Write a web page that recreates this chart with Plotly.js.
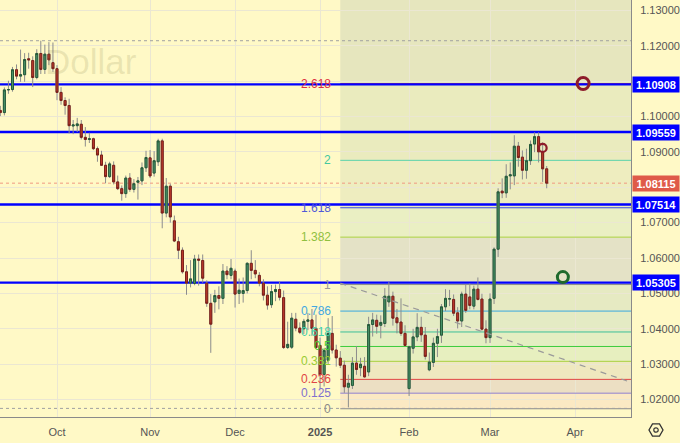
<!DOCTYPE html>
<html>
<head>
<meta charset="utf-8">
<script src="https://cdn.plot.ly/plotly-3.0.1.min.js"></script>
<style>
  html, body { margin: 0; padding: 0; background: #fff9c6; }
  #chart { width: 680px; height: 443px; }
</style>
</head>
<body>
<div id="chart"></div>
<script>
// ---------------- DATA ----------------
// trading days (weekends and 25 Dec / 1 Jan skipped)
const firstDay = '2024-09-11';
const lastDay = '2025-03-21';
const holidays = ['2024-12-25', '2025-01-01'];

// daily OHLC, one value per trading day, Sep 11 2024 .. Mar 21 2025
const opens = [
  // Sep
  1.1017,1.1011,1.1075,1.1076,1.1132,1.1114,1.1118,1.1163,1.1158,1.1110,1.1178,1.1133,1.1176,1.1152,
  // Oct
  1.1135,1.1068,1.1045,1.1031,1.0973,1.0974,1.0978,1.0941,1.0935,1.0937,1.0909,1.0891,1.0862,1.0830,
  1.0862,1.0815,1.0796,1.0782,1.0826,1.0794,1.0814,1.0818,1.0855,
  // Nov
  1.0883,1.0840,1.0872,1.0931,1.0727,1.0803,1.0705,1.0646,1.0622,1.0561,1.0529,1.0528,1.0597,1.0593,
  1.0529,1.0472,1.0476,1.0494,1.0486,1.0563,1.0551,
  // Dec
  1.0563,1.0500,1.0500,1.0508,1.0585,1.0565,1.0551,1.0529,1.0495,1.0468,1.0505,1.0511,1.0488,1.0347,
  1.0348,1.0427,1.0402,1.0400,1.0421,1.0425,1.0401,
  // Jan
  1.0353,1.0271,1.0311,1.0387,1.0340,1.0317,1.0297,1.0235,1.0240,1.0303,1.0290,1.0294,1.0278,1.0412,
  1.0424,1.0410,1.0415,1.0476,1.0492,1.0431,1.0419,1.0387,
  // Feb
  1.0231,1.0345,1.0377,1.0404,1.0382,1.0284,1.0305,1.0359,1.0382,1.0462,1.0484,1.0483,1.0445,1.0422,
  1.0498,1.0490,1.0464,1.0512,1.0484,1.0399,
  // Mar
  1.0375,1.0486,1.0625,1.0789,1.0784,1.0832,1.0832,1.0916,1.0885,1.0848,1.0875,1.0922,1.0943,1.0900,
  1.0852
];
const highs = [
  1.1030,1.1082,1.1101,1.1140,1.1147,1.1189,1.1179,1.1180,1.1170,1.1190,1.1214,1.1203,1.1210,1.1209,
  1.1145,1.1083,1.1054,1.1050,1.0990,1.0996,1.0990,1.0970,1.0954,1.0940,1.0915,1.0903,1.0872,1.0872,
  1.0873,1.0833,1.0805,1.0833,1.0840,1.0823,1.0829,1.0870,1.0903,
  1.0905,1.0902,1.0937,1.0937,1.0826,1.0810,1.0720,1.0660,1.0630,1.0580,1.0594,1.0609,1.0610,1.0610,
  1.0537,1.0498,1.0510,1.0520,1.0583,1.0577,1.0597,
  1.0570,1.0542,1.0545,1.0588,1.0622,1.0594,1.0560,1.0540,1.0520,1.0524,1.0525,1.0533,1.0508,1.0420,
  1.0445,1.0445,1.0418,1.0428,1.0445,1.0456,1.0440,
  1.0375,1.0345,1.0430,1.0436,1.0355,1.0337,1.0310,1.0270,1.0320,1.0351,1.0318,1.0320,1.0434,1.0445,
  1.0440,1.0438,1.0515,1.0532,1.0505,1.0456,1.0486,1.0410,
  1.0352,1.0400,1.0444,1.0434,1.0405,1.0333,1.0375,1.0400,1.0470,1.0512,1.0510,1.0497,1.0461,1.0505,
  1.0526,1.0528,1.0522,1.0545,1.0499,1.0424,
  1.0500,1.0630,1.0797,1.0825,1.0865,1.0870,1.0947,1.0928,1.0904,1.0909,1.0932,1.0955,1.0955,1.0927,
  1.0860
];
const lows = [
  1.1001,1.1003,1.1064,1.1070,1.1105,1.1098,1.1098,1.1135,1.1083,1.1105,1.1120,1.1120,1.1145,1.1126,
  1.1046,1.1033,1.1005,1.0952,1.0950,1.0956,1.0935,1.0915,1.0925,1.0905,1.0872,1.0860,1.0811,1.0826,
  1.0808,1.0792,1.0762,1.0770,1.0787,1.0785,1.0765,1.0806,1.0843,
  1.0826,1.0830,1.0860,1.0684,1.0715,1.0700,1.0645,1.0597,1.0556,1.0496,1.0517,1.0523,1.0522,1.0530,
  1.0462,1.0332,1.0445,1.0455,1.0470,1.0540,1.0540,
  1.0460,1.0470,1.0474,1.0500,1.0540,1.0543,1.0520,1.0480,1.0454,1.0459,1.0478,1.0480,1.0343,1.0343,
  1.0343,1.0393,1.0385,1.0385,1.0396,1.0380,1.0343,
  1.0230,1.0237,1.0300,1.0330,1.0293,1.0289,1.0219,1.0178,1.0230,1.0270,1.0266,1.0262,1.0266,1.0378,
  1.0386,1.0373,1.0405,1.0462,1.0409,1.0387,1.0380,1.0350,
  1.0210,1.0330,1.0365,1.0363,1.0313,1.0280,1.0292,1.0320,1.0360,1.0450,1.0464,1.0436,1.0401,1.0405,
  1.0445,1.0455,1.0455,1.0480,1.0395,1.0359,
  1.0360,1.0470,1.0603,1.0769,1.0770,1.0794,1.0806,1.0858,1.0822,1.0824,1.0863,1.0899,1.0870,1.0815,
  1.0797
];
const closes = [
  1.1011,1.1075,1.1076,1.1132,1.1114,1.1118,1.1161,1.1160,1.1110,1.1178,1.1133,1.1176,1.1160,1.1135,
  1.1068,1.1045,1.1031,1.0974,1.0976,1.0979,1.0941,1.0935,1.0937,1.0909,1.0891,1.0862,1.0830,1.0866,
  1.0815,1.0796,1.0782,1.0826,1.0794,1.0810,1.0818,1.0855,1.0884,
  1.0832,1.0875,1.0931,1.0727,1.0803,1.0716,1.0648,1.0622,1.0561,1.0529,1.0541,1.0597,1.0594,1.0543,
  1.0472,1.0413,1.0494,1.0486,1.0563,1.0553,1.0571,
  1.0498,1.0509,1.0508,1.0585,1.0565,1.0555,1.0529,1.0495,1.0467,1.0505,1.0511,1.0489,1.0347,1.0356,
  1.0430,1.0402,1.0390,1.0421,1.0425,1.0401,1.0347,
  1.0270,1.0339,1.0387,1.0340,1.0318,1.0297,1.0236,1.0246,1.0303,1.0285,1.0300,1.0264,1.0412,1.0425,
  1.0407,1.0418,1.0492,1.0492,1.0430,1.0417,1.0387,1.0353,
  1.0349,1.0377,1.0404,1.0383,1.0322,1.0306,1.0359,1.0378,1.0462,1.0486,1.0485,1.0444,1.0422,1.0498,
  1.0452,1.0466,1.0512,1.0483,1.0399,1.0375,
  1.0484,1.0625,1.0787,1.0784,1.0831,1.0835,1.0916,1.0884,1.0848,1.0875,1.0921,1.0943,1.0900,1.0852,
  1.08115
];

// x axis
const tickDates = ['2024-10-01','2024-11-01','2024-12-02','2025-01-02','2025-02-03','2025-03-03','2025-04-01'];
const tickTexts = ['Oct','Nov','Dec','<b>2025</b>','Feb','Mar','Apr'];
const xStart = '2024-09-10 22:00';
const xEnd = '2025-04-18 20:00';

// y axis (1.08000 and 1.11000 sit under the price boxes)
const yTicks = [1.02,1.03,1.04,1.05,1.06,1.07,1.08,1.09,1.10,1.11,1.12,1.13];
const yTickTexts = ['1.02000','1.03000','1.04000','1.05000','1.06000','1.07000','','1.09000','1.10000','','1.12000','1.13000'];
const yMin = 1.01507, yMax = 1.13291;

// horizontal levels (blue), marked price boxes
const blueLevels = [1.10908, 1.09559, 1.07514, 1.05305];
const lastPrice = 1.08115;
const rangeHigh = 1.1214;
const rangeLow = 1.0175;

// Fibonacci grid
const fibStart = '2025-01-09';
const fibRatios = ['0','0.125','0.236','0.382','0.5','0.618','0.786','1','1.382','1.618','2','2.618'];
const fibPrices = [1.0174,1.0218,1.0257,1.0308,1.0350,1.0391,1.0450,1.0525,1.0659,1.0742,1.0876,1.1093];

// dashed trend line
const trendX = ['2025-01-09', '2025-04-18 12:00'];
const trendY = [1.0529, 1.0250];

// circle marks
const ringRedBigX = ['2025-04-03'], ringRedBigY = [1.1093];
const ringRedX = ['2025-03-20'], ringRedY = [1.0911];
const ringGreenX = ['2025-03-27'], ringGreenY = [1.0546];

// watermark
const watermark = 'Dollar';

// ---------------- STYLE ----------------
const BG = '#fff9c6';
const GRID = '#ebe7d2';
const FONT = 'Liberation Sans, Arial, sans-serif';
const fibLineColors = ['#8a8a8a','#9080d0','#e04545','#a8d040','#3ccc3c','#3cbf98','#3aa8e0',
                       '#8a8a8a','#a8d040','#3a50e0','#5ad2aa','#e03040'];
const fibLabelColors = ['#8a8a8a','#8070d0','#e04545','#99cc33','#44cc33','#3fd0a8','#44a8e0',
                        '#9a9a9a','#90c040','#5058d8','#44c8a0','#e03040'];
const bandColors = ['#fbe9c3','#ecdfc3','#efe8bf','#e7efbf','#e4eec2','#e4ebc4','#e6eac2',
                    '#e4e2c6','#eaefc3','#eeedbf','#eaebbe','#e6e6be'];

// ---------------- BUILD ----------------
function tradingDays(a, b, skip) {
  const out = [];
  let d = new Date(a + 'T00:00:00Z');
  const end = new Date(b + 'T00:00:00Z');
  while (d <= end) {
    const s = d.toISOString().slice(0, 10);
    const w = d.getUTCDay();
    if (w !== 0 && w !== 6 && skip.indexOf(s) < 0) out.push(s);
    d = new Date(d.getTime() + 86400000);
  }
  return out;
}
const dates = tradingDays(firstDay, lastDay, holidays);

const bodyHigh = opens.map((o, i) => Math.max(o, closes[i]));
const bodyLow = opens.map((o, i) => Math.min(o, closes[i]));

const traces = [
  { // wicks
    type: 'candlestick', x: dates, open: opens, high: highs, low: lows, close: closes,
    increasing: { line: { color: '#8c8c8c', width: 1 }, fillcolor: '#8c8c8c' },
    decreasing: { line: { color: '#8c8c8c', width: 1 }, fillcolor: '#8c8c8c' },
    whiskerwidth: 0, hoverinfo: 'skip', showlegend: false
  },
  { // bodies
    type: 'candlestick', x: dates, open: opens, high: bodyHigh, low: bodyLow, close: closes,
    increasing: { line: { color: '#245a38', width: 1 }, fillcolor: '#4a946a' },
    decreasing: { line: { color: '#7a2018', width: 1 }, fillcolor: '#bf3a2c' },
    whiskerwidth: 0, hoverinfo: 'skip', showlegend: false
  },
  {
    type: 'scatter', mode: 'lines', x: trendX, y: trendY,
    line: { color: '#9a9a9a', width: 1.2, dash: '6px,5px' }, hoverinfo: 'skip', showlegend: false
  },
  {
    type: 'scatter', mode: 'markers', x: ringRedX, y: ringRedY,
    marker: { symbol: 'circle-open', size: 8, color: '#8e1c2a', line: { width: 2.2, color: '#8e1c2a' } },
    hoverinfo: 'skip', showlegend: false
  },
  {
    type: 'scatter', mode: 'markers', x: ringRedBigX, y: ringRedBigY,
    marker: { symbol: 'circle-open', size: 12, color: '#8e1c2a', line: { width: 3, color: '#8e1c2a' } },
    hoverinfo: 'skip', showlegend: false
  },
  {
    type: 'scatter', mode: 'markers', x: ringGreenX, y: ringGreenY,
    marker: { symbol: 'circle-open', size: 11, color: '#1f6a2c', line: { width: 3, color: '#1f6a2c' } },
    hoverinfo: 'skip', showlegend: false
  }
];

const shapes = [];
// fib bands
for (let k = 0; k < fibPrices.length; k++) {
  const top = k + 1 < fibPrices.length ? fibPrices[k + 1] : yMax;
  shapes.push({ type: 'rect', xref: 'x', yref: 'y', x0: fibStart, x1: xEnd, y0: fibPrices[k], y1: top,
    fillcolor: bandColors[k], line: { width: 0 }, layer: 'below' });
}
// fib lines
fibPrices.forEach((p, k) => {
  shapes.push({ type: 'line', xref: 'x', yref: 'y', x0: fibStart, x1: xEnd, y0: p, y1: p,
    line: { color: fibLineColors[k], width: 1 }, layer: 'between' });
});
// range high / low dotted
[rangeHigh, rangeLow].forEach(p => {
  shapes.push({ type: 'line', xref: 'x', yref: 'y', x0: xStart, x1: xEnd, y0: p, y1: p,
    line: { color: '#a0a0a0', width: 1, dash: 'dot' }, layer: 'between' });
});
// last price dotted
shapes.push({ type: 'line', xref: 'x', yref: 'y', x0: xStart, x1: xEnd, y0: lastPrice, y1: lastPrice,
  line: { color: '#f09a80', width: 1, dash: 'dot' }, layer: 'between' });
// blue levels
blueLevels.forEach(p => {
  shapes.push({ type: 'line', xref: 'x', yref: 'y', x0: xStart, x1: xEnd, y0: p, y1: p,
    line: { color: '#0000ff', width: 2.4 }, layer: 'between' });
});
// settings icon (hexagon + circle) below price scale
(function () {
  const W = 631, H = 417, cx = 656, cy = 430, r = 7;
  const pts = [];
  for (let a = 0; a < 6; a++) {
    const ang = Math.PI / 3 * a;
    pts.push([(cx + r * Math.cos(ang)) / W, (H - (cy + r * Math.sin(ang))) / H]);
  }
  shapes.push({ type: 'path', xref: 'paper', yref: 'paper',
    path: 'M' + pts.map(p => p[0].toFixed(5) + ',' + p[1].toFixed(5)).join('L') + 'Z',
    line: { color: '#333', width: 1.3 }, fillcolor: 'rgba(0,0,0,0)', layer: 'above' });
  shapes.push({ type: 'circle', xref: 'paper', yref: 'paper',
    x0: (cx - 2.2) / W, x1: (cx + 2.2) / W, y0: (H - cy - 2.2) / H, y1: (H - cy + 2.2) / H,
    line: { color: '#333', width: 1.2 }, fillcolor: 'rgba(0,0,0,0)', layer: 'above' });
})();

const annotations = [];
// watermark
annotations.push({ xref: 'paper', yref: 'paper', x: 139 / 631, y: (417 - 62) / 417,
  xanchor: 'right', yanchor: 'middle', showarrow: false, text: watermark,
  font: { family: FONT, size: 35, color: 'rgba(125,115,60,0.16)' } });
// fib labels
fibPrices.forEach((p, k) => {
  annotations.push({ xref: 'x', yref: 'y', x: fibStart, y: p, xanchor: 'right', yanchor: 'middle',
    xshift: -7, showarrow: false, text: fibRatios[k],
    font: { family: FONT, size: 12, color: fibLabelColors[k] } });
});
// price boxes
blueLevels.forEach(p => {
  annotations.push({ xref: 'paper', yref: 'y', x: 1, y: p, xanchor: 'left', yanchor: 'middle',
    xshift: 1, showarrow: false, text: '<b>' + p.toFixed(5) + '</b>', bgcolor: '#0000ff',
    width: 44, height: 13, borderpad: 1, align: 'center',
    font: { family: FONT, size: 11, color: '#ffffff' } });
});
annotations.push({ xref: 'paper', yref: 'y', x: 1, y: lastPrice, xanchor: 'left', yanchor: 'middle',
  xshift: 1, showarrow: false, text: '<b>' + lastPrice.toFixed(5) + '</b>', bgcolor: '#df5a48',
  width: 44, height: 13, borderpad: 1, align: 'center',
  font: { family: FONT, size: 11, color: '#ffffff' } });

const layout = {
  width: 680, height: 443,
  margin: { l: 0, r: 49, t: 0, b: 26, pad: 0 },
  paper_bgcolor: BG, plot_bgcolor: BG,
  showlegend: false,
  dragmode: false,
  xaxis: {
    type: 'date', range: [xStart, xEnd],
    rangebreaks: [{ bounds: ['sat', 'mon'] }, { values: holidays }],
    rangeslider: { visible: false },
    tickmode: 'array', tickvals: tickDates, ticktext: tickTexts,
    showgrid: true, gridcolor: GRID, gridwidth: 1,
    ticks: 'outside', ticklen: 5, tickcolor: 'rgba(0,0,0,0)',
    tickfont: { family: FONT, size: 11, color: '#555' },
    showline: true, linecolor: '#8a8a8a', linewidth: 1, zeroline: false, fixedrange: true
  },
  yaxis: {
    side: 'right', range: [yMin, yMax],
    tickmode: 'array', tickvals: yTicks, ticktext: yTickTexts,
    showgrid: true, gridcolor: GRID, gridwidth: 1,
    ticks: 'outside', ticklen: 6, tickcolor: 'rgba(0,0,0,0)',
    tickfont: { family: FONT, size: 11, color: '#555' },
    showline: true, linecolor: '#8a8a8a', linewidth: 1, zeroline: false, fixedrange: true
  },
  shapes: shapes,
  annotations: annotations
};

Plotly.newPlot('chart', traces, layout, { displayModeBar: false, staticPlot: true });
</script>
</body>
</html>
